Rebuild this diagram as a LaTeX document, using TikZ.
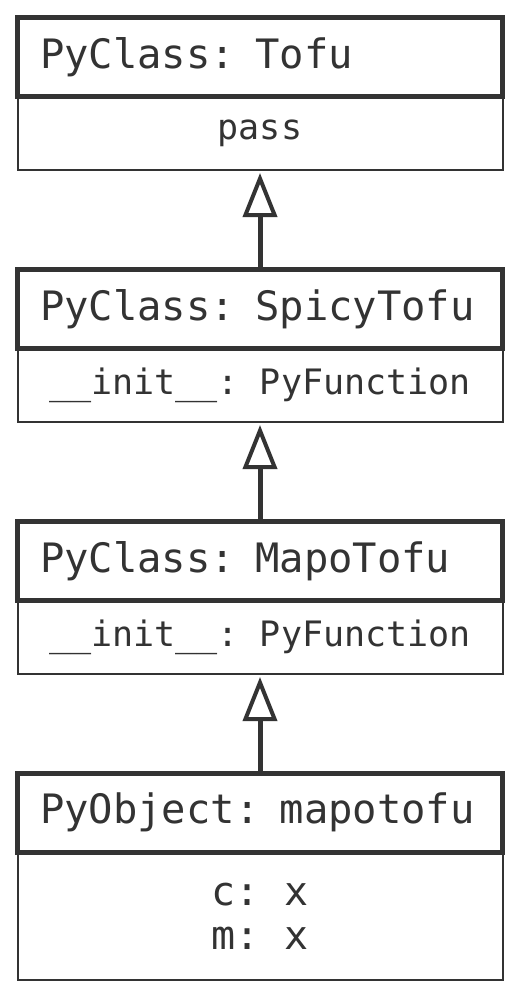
\documentclass[tikz,border=0pt]{standalone}
\usepackage{fontspec}
\setmonofont{DejaVu Sans Mono}
\usepackage{xcolor}
\usetikzlibrary{arrows.meta, positioning}
\definecolor{ink}{HTML}{333333}

\begin{document}
\begin{tikzpicture}[x=1pt, y=-1pt,
    font=\ttfamily,
    head/.style={draw=ink, line width=5pt, outer sep=0pt, inner xsep=22.5pt,
                 text width=440pt, align=left, minimum height=78.5pt,
                 text=ink, font=\ttfamily\fontsize{40.5}{48}\selectfont},
    body/.style={draw=ink, line width=2pt, outer sep=0pt, minimum width=485pt,
                 minimum height=74pt, align=center, text=ink,
                 font=\ttfamily\fontsize{35}{44}\selectfont},
    inherit/.style={draw=ink, line width=5pt, shorten >=3pt,
                    -{Triangle[open, length=44pt, width=34pt, line width=4pt]}},
  ]
  \useasboundingbox[fill=white] (0,0) rectangle (515,990);

  \node[head] (tofu) at (260,56.75) {PyClass: Tofu};
  \node[body, below=0pt of tofu] (tofub) {pass};

  \node[head] (spicy) at (260,308.75) {PyClass: SpicyTofu};
  \node[body, below=0pt of spicy] (spicyb) {\_\_init\_\_: PyFunction};

  \node[head] (mapo) at (260,560.75) {PyClass: MapoTofu};
  \node[body, below=0pt of mapo] (mapob) {\_\_init\_\_: PyFunction};

  \node[head] (obj) at (260,812.75) {PyObject: mapotofu};
  \node[body, below=0pt of obj, minimum height=128pt,
        font=\ttfamily\fontsize{40}{44}\selectfont] (objb) {c: x\\m: x};

  % inheritance arrows
  \draw[inherit] (spicy.north) -- (tofub.south);
  \draw[inherit] (mapo.north) -- (spicyb.south);
  \draw[inherit] (obj.north) -- (mapob.south);
\end{tikzpicture}
\end{document}
